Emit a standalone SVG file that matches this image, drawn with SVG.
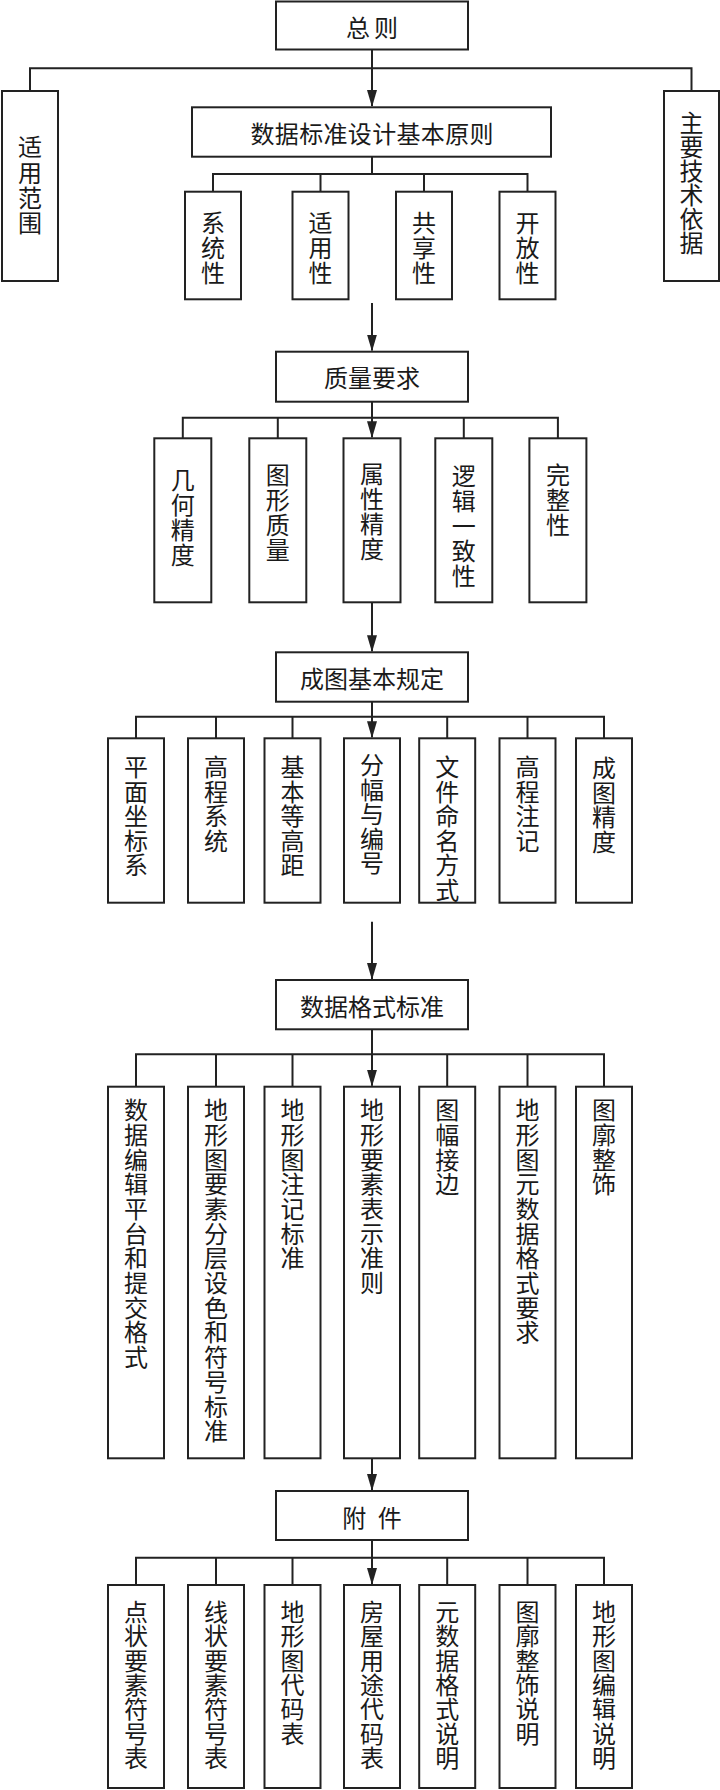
<svg xmlns="http://www.w3.org/2000/svg" width="720" height="1790" viewBox="0 0 720 1790">
<defs>
<style>
.box{fill:#fff;stroke:#222;stroke-width:2}
.ln{fill:none;stroke:#222;stroke-width:2}
.t{font-family:"Noto Sans CJK SC","Noto Sans",sans-serif;font-size:24px;fill:#1a1a1a;text-anchor:middle;dominant-baseline:central}
.v{font-family:"Noto Sans CJK SC","Noto Sans",sans-serif;font-size:24px;fill:#1a1a1a;writing-mode:vertical-rl;text-anchor:start}
.r1{letter-spacing:0.8px}
.r2{letter-spacing:1px}
.r3{letter-spacing:0.5px}
.r4{letter-spacing:0.7px}
.r5{letter-spacing:0.4px}
</style>
<marker id="ah" viewBox="0 0 17 10" refX="16" refY="5" markerWidth="17" markerHeight="10" markerUnits="userSpaceOnUse" orient="auto">
<path d="M0,0 L17,5 L0,10 z" fill="#222"/>
</marker>
</defs>
<rect width="720" height="1790" fill="#fff"/>

<g id="connectors">
<path class="ln" d="M372,50 V106" marker-end="url(#ah)"/>
<path class="ln" d="M30,91 V68.3 H691.5 V91"/>
<path class="ln" d="M372,157 V174 M213,191.7 V174 H527.5 V191.7 M320.5,174 V191.7 M424,174 V191.7"/>
<path class="ln" d="M372,303 V350.5" marker-end="url(#ah)"/>
<path class="ln" d="M372,401.7 V437.3" marker-end="url(#ah)"/>
<path class="ln" d="M182.8,438.3 V417.7 H557.9 V438.3 M277.8,417.7 V438.3 M463.8,417.7 V438.3"/>
<path class="ln" d="M372,602.3 V651.3" marker-end="url(#ah)"/>
<path class="ln" d="M372,701.7 V737.3" marker-end="url(#ah)"/>
<path class="ln" d="M136,738.3 V716.7 H604 V738.3 M216,716.7 V738.3 M292.5,716.7 V738.3 M447.2,716.7 V738.3 M527.5,716.7 V738.3"/>
<path class="ln" d="M372,921.7 V979" marker-end="url(#ah)"/>
<path class="ln" d="M372,1029.3 V1085.7" marker-end="url(#ah)"/>
<path class="ln" d="M136,1086.7 V1054.3 H604 V1086.7 M216,1054.3 V1086.7 M292.5,1054.3 V1086.7 M447.2,1054.3 V1086.7 M527.5,1054.3 V1086.7"/>
<path class="ln" d="M372,1458.3 V1490" marker-end="url(#ah)"/>
<path class="ln" d="M372,1540 V1584" marker-end="url(#ah)"/>
<path class="ln" d="M136,1585 V1557.7 H604 V1585 M216,1557.7 V1585 M292.5,1557.7 V1585 M447.2,1557.7 V1585 M527.5,1557.7 V1585"/>
</g>

<g id="n-zongze"><rect class="box" x="276" y="1.5" width="192" height="48"/><text class="t" x="374" y="26" letter-spacing="4">总则</text></g>
<g id="n-shiyongfanwei"><rect class="box" x="2" y="91" width="56" height="190"/><text class="v" x="30" y="135" letter-spacing="1.4">适用范围</text></g>
<g id="n-yiju"><rect class="box" x="664" y="91" width="55" height="190"/><text class="v" x="691.5" y="111">主要技术依据</text></g>
<g id="n-yuanze"><rect class="box" x="192" y="107.3" width="359" height="49.4"/><text class="t" x="372" y="132" textLength="243" lengthAdjust="spacing">数据标准设计基本原则</text></g>

<g id="n-xitong"><rect class="box" x="185" y="191.7" width="56" height="107.6"/><text class="v r1" x="213" y="211">系统性</text></g>
<g id="n-shiyong"><rect class="box" x="292.5" y="191.7" width="56" height="107.6"/><text class="v r1" x="320.5" y="211">适用性</text></g>
<g id="n-gongxiang"><rect class="box" x="396" y="191.7" width="56" height="107.6"/><text class="v r1" x="424" y="211">共享性</text></g>
<g id="n-kaifang"><rect class="box" x="499.5" y="191.7" width="56" height="107.6"/><text class="v r1" x="527.5" y="211">开放性</text></g>

<g id="n-zhiliang"><rect class="box" x="276" y="351.7" width="192" height="50"/><text class="t" x="372" y="376">质量要求</text></g>
<g id="n-jihe"><rect class="box" x="154.3" y="438.3" width="57" height="164"/><text class="v r2" x="182.8" y="468">几何精度</text></g>
<g id="n-tuxing"><rect class="box" x="249.3" y="438.3" width="57" height="164"/><text class="v r2" x="277.8" y="463">图形质量</text></g>
<g id="n-shuxing"><rect class="box" x="343.5" y="438.3" width="57" height="164"/><text class="v r2" x="372" y="462">属性精度</text></g>
<g id="n-luoji"><rect class="box" x="435.3" y="438.3" width="57" height="164"/><text class="v r2" x="463.8" y="464">逻辑一致性</text></g>
<g id="n-wanzheng"><rect class="box" x="529.4" y="438.3" width="57" height="164"/><text class="v r2" x="557.9" y="463">完整性</text></g>

<g id="n-chengtu"><rect class="box" x="276" y="652.3" width="192" height="49.4"/><text class="t" x="372" y="677">成图基本规定</text></g>
<g id="n-pingmian"><rect class="box" x="108" y="738.3" width="56" height="164.4"/><text class="v r3" x="136" y="755">平面坐标系</text></g>
<g id="n-gaocheng"><rect class="box" x="188" y="738.3" width="56" height="164.4"/><text class="v r3" x="216" y="755">高程系统</text></g>
<g id="n-denggaoju"><rect class="box" x="264.5" y="738.3" width="56" height="164.4"/><text class="v r3" x="292.5" y="755">基本等高距</text></g>
<g id="n-fenfu"><rect class="box" x="344" y="738.3" width="56" height="164.4"/><text class="v r3" x="372" y="753">分幅与编号</text></g>
<g id="n-wenjian"><rect class="box" x="419.2" y="738.3" width="56" height="164.4"/><text class="v r3" x="447.2" y="755">文件命名方式</text></g>
<g id="n-zhuji"><rect class="box" x="499.5" y="738.3" width="56" height="164.4"/><text class="v r3" x="527.5" y="755">高程注记</text></g>
<g id="n-jingdu"><rect class="box" x="576" y="738.3" width="56" height="164.4"/><text class="v r3" x="604" y="756">成图精度</text></g>

<g id="n-geshi"><rect class="box" x="276" y="980" width="192" height="49.3"/><text class="t" x="372" y="1005">数据格式标准</text></g>
<g id="n-pingtai"><rect class="box" x="108" y="1086.7" width="56" height="371.6"/><text class="v r4" x="136" y="1098">数据编辑平台和提交格式</text></g>
<g id="n-fenceng"><rect class="box" x="188" y="1086.7" width="56" height="371.6"/><text class="v r4" x="216" y="1098">地形图要素分层设色和符号标准</text></g>
<g id="n-zhujibiaozhun"><rect class="box" x="264.5" y="1086.7" width="56" height="371.6"/><text class="v r4" x="292.5" y="1098">地形图注记标准</text></g>
<g id="n-biaoshi"><rect class="box" x="344" y="1086.7" width="56" height="371.6"/><text class="v r4" x="372" y="1098">地形要素表示准则</text></g>
<g id="n-jiebian"><rect class="box" x="419.2" y="1086.7" width="56" height="371.6"/><text class="v r4" x="447.2" y="1098">图幅接边</text></g>
<g id="n-yuanshuju"><rect class="box" x="499.5" y="1086.7" width="56" height="371.6"/><text class="v r4" x="527.5" y="1098">地形图元数据格式要求</text></g>
<g id="n-tukuo"><rect class="box" x="576" y="1086.7" width="56" height="371.6"/><text class="v r4" x="604" y="1098">图廓整饰</text></g>

<g id="n-fujian"><rect class="box" x="276" y="1491" width="192" height="49"/><text class="t" x="372" y="1516" word-spacing="6">附 件</text></g>
<g id="n-dianzhuang"><rect class="box" x="108" y="1585" width="56" height="203"/><text class="v r5" x="136" y="1599.7">点状要素符号表</text></g>
<g id="n-xianzhuang"><rect class="box" x="188" y="1585" width="56" height="203"/><text class="v r5" x="216" y="1599.7">线状要素符号表</text></g>
<g id="n-daima"><rect class="box" x="264.5" y="1585" width="56" height="203"/><text class="v r5" x="292.5" y="1599.7">地形图代码表</text></g>
<g id="n-fangwu"><rect class="box" x="344" y="1585" width="56" height="203"/><text class="v r5" x="372" y="1599.7">房屋用途代码表</text></g>
<g id="n-yuanshuju-sm"><rect class="box" x="419.2" y="1585" width="56" height="203"/><text class="v r5" x="447.2" y="1599.7">元数据格式说明</text></g>
<g id="n-tukuo-sm"><rect class="box" x="499.5" y="1585" width="56" height="203"/><text class="v r5" x="527.5" y="1599.7">图廓整饰说明</text></g>
<g id="n-bianji-sm"><rect class="box" x="576" y="1585" width="56" height="203"/><text class="v r5" x="604" y="1599.7">地形图编辑说明</text></g>
</svg>
